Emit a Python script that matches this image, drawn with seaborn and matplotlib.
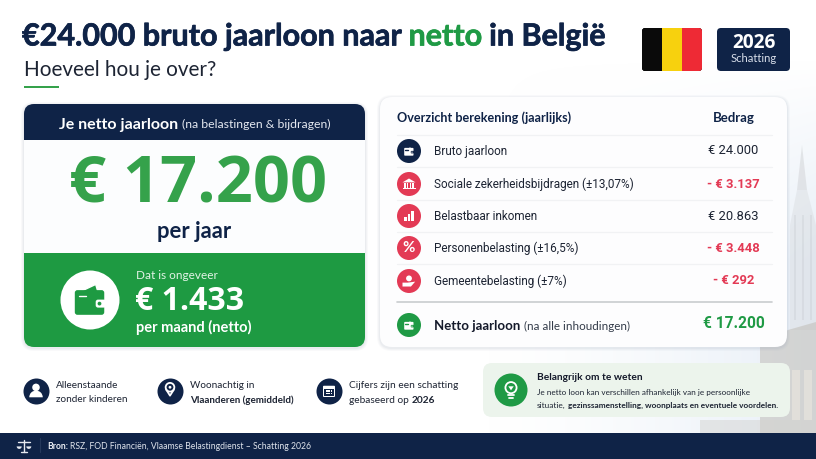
import numpy as np
import pandas as pd
import matplotlib
matplotlib.use("Agg")
import matplotlib.pyplot as plt
import matplotlib.patheffects as pe
import seaborn as sns
from matplotlib.patches import FancyBboxPatch, Rectangle, Circle, Polygon, Wedge

# -----------------------------
# Data
# -----------------------------
row_labels = ["Bruto jaarloon", "Sociale zekerheidsbijdragen (±13,07%)", "Belastbaar inkomen",
              "Personenbelasting (±16,5%)", "Gemeentebelasting (±7%)"]
row_amounts = ["€ 24.000", "- € 3.137", "€ 20.863", "- € 3.448", "- € 292"]
row_kinds = ["navy", "red", "red", "red", "red"]
net_year = "€ 17.200"
net_month = "€ 1.433"
badge_year = "2026"

NAVY = "#0f2347"
GREEN = "#1f9a45"
BIG_GREEN = "#35a24b"
RED = "#e33a55"
INK = "#1d2433"

sns.set_theme(style="white")
plt.rcParams["font.family"] = ["Lato", "DejaVu Sans"]
plt.rcParams["patch.force_edgecolor"] = False
BIG_FONT = ["Open Sans", "DejaVu Sans"]
ROW_FONT = ["Roboto", "DejaVu Sans"]

fig = plt.figure(figsize=(8.16, 4.59), dpi=100)
ax = fig.add_axes([0, 0, 1, 1])
ax.set_xlim(0, 816)
ax.set_ylim(459, 0)
ax.axis("off")


def px(size):
    # text size given in image pixels
    return size * 0.72


def box(x0, y0, x1, y1, color, r=8, z=2, **kw):
    p = FancyBboxPatch((x0 + r, y0 + r), x1 - x0 - 2 * r, y1 - y0 - 2 * r,
                       boxstyle=f"round,pad={r},rounding_size={r}", fc=color, ec="none", zorder=z, **kw)
    ax.add_patch(p)
    return p


def shadow(x0, y0, x1, y1, r=10):
    for grow, a in [(3, 0.05), (2, 0.06), (1, 0.08)]:
        box(x0 - grow, y0 - grow + 1, x1 + grow, y1 + grow + 1, "#8c9ab0", r=r + grow, z=1.5, alpha=a)


def runs(x, y, parts, center=False, z=6, stroke=0):
    # parts: (string, size px, weight, colour, gap after), laid out left to right
    r = fig.canvas.get_renderer()
    items = []
    total = 0
    for s, size, weight, col, gap, *fam in parts:
        t = ax.text(x, y, s, fontsize=px(size), fontweight=weight, color=col, va="center_baseline",
                    zorder=z, family=fam[0] if fam else None)
        if stroke:
            t.set_path_effects([pe.withStroke(linewidth=stroke, foreground=col)])
        w = t.get_window_extent(r).width
        items.append((t, w, gap))
        total += w + gap
    cur = x - total / 2 if center else x
    for t, w, gap in items:
        t.set_x(cur)
        cur += w + gap


def wallet(cx, cy, s, col, bg):
    ax.add_patch(Polygon([(cx - .55 * s, cy - .42 * s), (cx + .3 * s, cy - .82 * s), (cx + .42 * s, cy - .42 * s)],
                         fc=col, ec=bg, lw=1, zorder=7))
    box(cx - .8 * s, cy - .52 * s, cx + .75 * s, cy + .78 * s, col, r=.14 * s, z=8)
    ax.plot([cx - .6 * s, cx - .2 * s], [cy - .22 * s] * 2, color=bg, lw=1, zorder=9)
    box(cx + .3 * s, cy - .02 * s, cx + .85 * s, cy + .4 * s, bg, r=.12 * s, z=9)
    ax.add_patch(Circle((cx + .5 * s, cy + .19 * s), .1 * s, fc=col, zorder=10))


def bank(cx, cy, s, col):
    ax.add_patch(Polygon([(cx - s, cy - .25 * s), (cx, cy - .85 * s), (cx + s, cy - .25 * s)], fc=col, zorder=8))
    for dx in [-.62, -.2, .2, .62]:
        ax.add_patch(Rectangle((cx + (dx - .1) * s, cy - .1 * s), .2 * s, .65 * s, fc=col, zorder=8))
    ax.add_patch(Rectangle((cx - s, cy + .6 * s), 2 * s, .2 * s, fc=col, zorder=8))


def bars(cx, cy, s, col):
    for dx, h in [(-.75, .5), (-.2, .95), (.35, 1.4)]:
        ax.add_patch(Rectangle((cx + dx * s, cy + (.7 - h) * s), .38 * s, h * s, fc=col, zorder=8))


def hand(cx, cy, s, col, bg):
    ax.add_patch(Circle((cx, cy - .4 * s), .45 * s, fc=col, zorder=8))
    ax.add_patch(Polygon([(cx - s, cy + .25 * s), (cx - .2 * s, cy + .25 * s), (cx + .95 * s, cy + .1 * s),
                          (cx + .3 * s, cy + .85 * s), (cx - s, cy + .85 * s)], fc=col, zorder=8))


def person(cx, cy, s, col):
    ax.add_patch(Circle((cx, cy - .4 * s), .42 * s, fc=col, zorder=8))
    ax.add_patch(Wedge((cx, cy + .7 * s), .75 * s, 180, 360, fc=col, zorder=8))


def pin(cx, cy, s, col, bg):
    ax.add_patch(Circle((cx, cy - .25 * s), .62 * s, fc="none", ec=col, lw=1.3, zorder=8))
    ax.plot([cx - .55 * s, cx, cx + .55 * s], [cy + .08 * s, cy + .95 * s, cy + .08 * s], color=col, lw=1.3, zorder=8)
    ax.add_patch(Circle((cx, cy - .25 * s), .2 * s, fc=col, zorder=8))


def calendar(cx, cy, s, col, bg):
    box(cx - .8 * s, cy - .7 * s, cx + .8 * s, cy + .8 * s, col, r=.12 * s, z=8)
    ax.add_patch(Rectangle((cx - .62 * s, cy - .22 * s), 1.24 * s, .84 * s, fc=bg, zorder=9))
    for gx in [-.4, -.08, .24]:
        for gy in [-.08, .26]:
            ax.add_patch(Rectangle((cx + gx * s, cy + gy * s), .2 * s, .18 * s, fc=col, zorder=10))


def bulb(cx, cy, s, col):
    ax.add_patch(Circle((cx, cy - .15 * s), .62 * s, fc="none", ec=col, lw=1.3, zorder=8))
    ax.add_patch(Polygon([(cx - .3 * s, cy - .3 * s), (cx + .3 * s, cy - .3 * s), (cx, cy + .15 * s)], fc=col, zorder=8))
    ax.plot([cx - .3 * s, cx + .3 * s], [cy + .72 * s] * 2, color=col, lw=1.3, zorder=8)
    ax.plot([cx - .2 * s, cx + .2 * s], [cy + .98 * s] * 2, color=col, lw=1.3, zorder=8)


def scales(cx, cy, s, col):
    ax.plot([cx, cx], [cy - s, cy + s], color=col, lw=1, zorder=8)
    ax.plot([cx - s, cx + s], [cy - .6 * s] * 2, color=col, lw=1, zorder=8)
    ax.plot([cx - .5 * s, cx + .5 * s], [cy + s] * 2, color=col, lw=1, zorder=8)
    for sx in (-.8, .8):
        ax.add_patch(Wedge((cx + sx * s, cy + .15 * s), .42 * s, 0, 180, fc=col, zorder=8))


# -----------------------------
# Background with the faint tower
# -----------------------------
h, w = 459, 816
grad = np.ones((h, w, 4))
yy, xx = np.mgrid[0:h, 0:w]
grad[..., :3] = np.array([0.90, 0.93, 0.965])
grad[..., 3] = np.clip((xx - 480) / 336, 0, 1) ** 1.5 * np.clip((yy - 60) / 200, 0, 1) * 0.9
ax.imshow(grad, extent=(0, 816, 459, 0), aspect="auto", zorder=0)
ax.set_xlim(0, 816)
ax.set_ylim(459, 0)

TOWER = "#d3d5d8"
ax.add_patch(Polygon([(802, 145), (797, 190), (807, 190)], fc=TOWER, alpha=.55, zorder=.5))
ax.add_patch(Polygon([(797, 190), (807, 190), (816, 225), (816, 330), (790, 330), (790, 225)], fc=TOWER, alpha=.35, zorder=.5))
ax.add_patch(Polygon([(760, 345), (788, 330), (816, 322), (816, 433), (760, 433)], fc="#bdb9b1", alpha=.5, zorder=.5))
for sx in [794, 802, 810]:
    ax.add_patch(Rectangle((sx, 215), 2, 105, fc="#aeb2b8", alpha=.18, zorder=.6))
for sx in [792, 804]:
    ax.add_patch(Rectangle((sx, 370), 8, 50, fc="#f0ebe2", alpha=.5, zorder=.6))
ax.add_patch(Rectangle((700, 420), 116, 13, fc="#d4d4d2", alpha=.5, zorder=.6))

# -----------------------------
# Header
# -----------------------------
runs(22, 34, [("€24.000 bruto jaarloon naar ", 30.5, "bold", NAVY, 0),
              ("netto", 30.5, "bold", GREEN, 7),
              ("in België", 30.5, "bold", NAVY, 0)], stroke=0.5)
ax.text(24, 68, "Hoeveel hou je over?", fontsize=px(20.7), color=INK, va="center_baseline")
ax.add_patch(Rectangle((24, 86), 35, 2.2, fc=BIG_GREEN, zorder=3))

flag = box(642, 28, 702, 71, "black", r=3, z=3)
for i, col in enumerate(["#0a0a0a", "#f7d10e", "#ee2a35"]):
    ax.add_patch(Rectangle((642 + 20 * i, 28), 20, 43, fc=col, zorder=4, clip_path=flag))
box(717, 28, 790, 71, NAVY, r=4, z=3)
ax.text(753.5, 43, badge_year, fontsize=px(19), fontweight="bold", color="white", ha="center", va="center", zorder=5,
        family=BIG_FONT)
ax.text(753.5, 59, "Schatting", fontsize=px(11.3), color="#d8deea", ha="center", va="center", zorder=5)

# -----------------------------
# Left card
# -----------------------------
shadow(24, 104, 365, 347)
card = box(24, 104, 365, 347, "#fcfdfe", r=10, z=2)
ax.add_patch(Rectangle((24, 104), 341, 36, fc=NAVY, zorder=3, clip_path=card))
ax.add_patch(Rectangle((24, 253), 341, 94, fc="#1e9a42", zorder=3, clip_path=card))
runs(194.5, 123, [("Je netto jaarloon", 16, "bold", "white", 4), ("(na belastingen & bijdragen)", 12.2, "normal", "#e4e8f0", 0)],
     center=True)
ax.text(198, 186, net_year, fontsize=px(65), fontweight="bold", color=BIG_GREEN, ha="center", va="center", zorder=5,
        family=BIG_FONT)
ax.text(194.5, 232, "per jaar", fontsize=px(22), fontweight="bold", color=NAVY, ha="center", va="center", zorder=5)

ax.text(136, 275.5, "Dat is ongeveer", fontsize=px(11.8), color="#e3f3e6", va="center", zorder=5)
ax.text(135, 301, net_month, fontsize=px(32), fontweight="bold", color="white", va="center", zorder=5, family=BIG_FONT)
ax.text(136, 327, "per maand (netto)", fontsize=px(14.6), fontweight="bold", color="white", va="center", zorder=5)

# -----------------------------
# Right panel, table rows
# -----------------------------
shadow(380, 97, 787, 347, r=12)
box(380, 97, 787, 347, "#fdfdfe", r=12, z=2)
ax.text(397, 118, "Overzicht berekening (jaarlijks)", fontsize=px(12.6), fontweight="bold", color=NAVY, va="center", zorder=5)
ax.text(733.5, 118, "Bedrag", fontsize=px(13.2), fontweight="bold", color=NAVY, ha="center", va="center", zorder=5)

row_y = [151, 184, 216, 248, 281]
net_y = 325
rows = pd.DataFrame({"x": 409, "y": row_y + [net_y], "kind": row_kinds + ["green"]})
for line_y in [135, 167, 200, 232, 264]:
    ax.plot([397, 772], [line_y, line_y], color="#f1f2f4", lw=.9, zorder=3)
ax.plot([397, 772], [302, 302], color="#c9cccf", lw=1.2, zorder=3)
sns.scatterplot(data=rows, x="x", y="y", hue="kind", palette={"navy": NAVY, "red": RED, "green": GREEN},
                s=(24 * 0.72) ** 2, linewidth=0, legend=False, zorder=5, ax=ax)
ax.set_xlabel("")
ax.set_ylabel("")

for lab, amount, y in zip(row_labels, row_amounts, row_y):
    ax.text(433.5, y, lab, fontsize=px(11.7), color=INK, va="center", zorder=6, family=ROW_FONT)
    col = RED if amount.startswith("-") else INK
    ax.text(733.5, y, amount, fontsize=px(13), color=col, ha="center", va="center", zorder=6, family=ROW_FONT,
            fontweight="bold" if col == RED else "normal")

runs(433.5, 325, [("Netto jaarloon", 13.3, "bold", "#14192a", 4), ("(na alle inhoudingen)", 11.6, "normal", "#333b49", 0)])
ax.text(733.5, 324, net_year, fontsize=px(15.5), fontweight="bold", color=GREEN, ha="center", va="center", zorder=6,
        family=ROW_FONT)

wallet(409, 151, 6, "white", NAVY)
bank(409, 184, 6.5, "white")
bars(409, 216, 6.5, "white")
ax.text(409, 248, "%", fontsize=px(15), fontweight="bold", color="white", ha="center", va="center", zorder=8)
hand(409, 281, 6.5, "white", RED)
wallet(409, 325, 6, "white", GREEN)

# -----------------------------
# Wallet on the green block
# -----------------------------
ax.add_patch(Circle((90, 300), 29.5, fc="white", zorder=5))
wallet(90, 300, 19, "#1e9a42", "white")

# -----------------------------
# Bottom notes
# -----------------------------
note_x = [36, 170, 329]
notes = pd.DataFrame({"x": note_x, "y": 391})
sns.scatterplot(data=notes, x="x", y="y", color=NAVY, s=(26 * 0.72) ** 2, linewidth=0, legend=False, zorder=5, ax=ax)
ax.set_xlabel("")
ax.set_ylabel("")
person(36, 391, 9, "white")
pin(170, 389, 7, "white", NAVY)
calendar(329, 391, 7.5, "white", NAVY)

ax.text(56, 386, "Alleenstaande", fontsize=px(10), color=INK, va="center", zorder=6)
ax.text(56, 400, "zonder kinderen", fontsize=px(10), color=INK, va="center", zorder=6)
ax.text(190, 386, "Woonachtig in", fontsize=px(10), color=INK, va="center", zorder=6)
ax.text(190, 400, "Vlaanderen (gemiddeld)", fontsize=px(9.9), fontweight="bold", color=INK, va="center", zorder=6)
ax.text(349, 386, "Cijfers zijn een schatting", fontsize=px(10.1), color=INK, va="center", zorder=6)
runs(349, 399.5, [("gebaseerd op", 10.1, "normal", INK, 3), ("2026", 10.1, "bold", INK, 0)])

box(483, 363, 790, 417, "#ecf4ec", r=9, z=2)
ax.add_patch(Circle((511, 390), 16.5, fc=GREEN, zorder=5))
bulb(511, 389, 9, "white")
ax.text(537, 377.5, "Belangrijk om te weten", fontsize=px(10.1), fontweight="bold", color="#14192a", va="center", zorder=6)
ax.text(537, 393, "Je netto loon kan verschillen afhankelijk van je persoonlijke", fontsize=px(8.2), color=INK, va="center", zorder=6)
runs(537, 404.5, [("situatie,", 8.3, "normal", INK, 2),
                  ("gezinssamenstelling, woonplaats en eventuele voordelen.", 8.3, "bold", INK, 0)])

# -----------------------------
# Footer
# -----------------------------
ax.add_patch(Rectangle((0, 433), 816, 26, fc=NAVY, zorder=3))
scales(24, 445.5, 6, "#e6e9f0")
ax.plot([39.5, 39.5], [438, 452], color="#25395c", lw=.8, zorder=5)
runs(47.5, 445.5, [("Bron:", 8.6, "bold", "#eef1f6", 2),
                   ("RSZ, FOD Financiën, Vlaamse Belastingdienst – Schatting 2026", 8.6, "normal", "#dfe4ec", 0)])

fig.savefig("out.png", dpi=100)
